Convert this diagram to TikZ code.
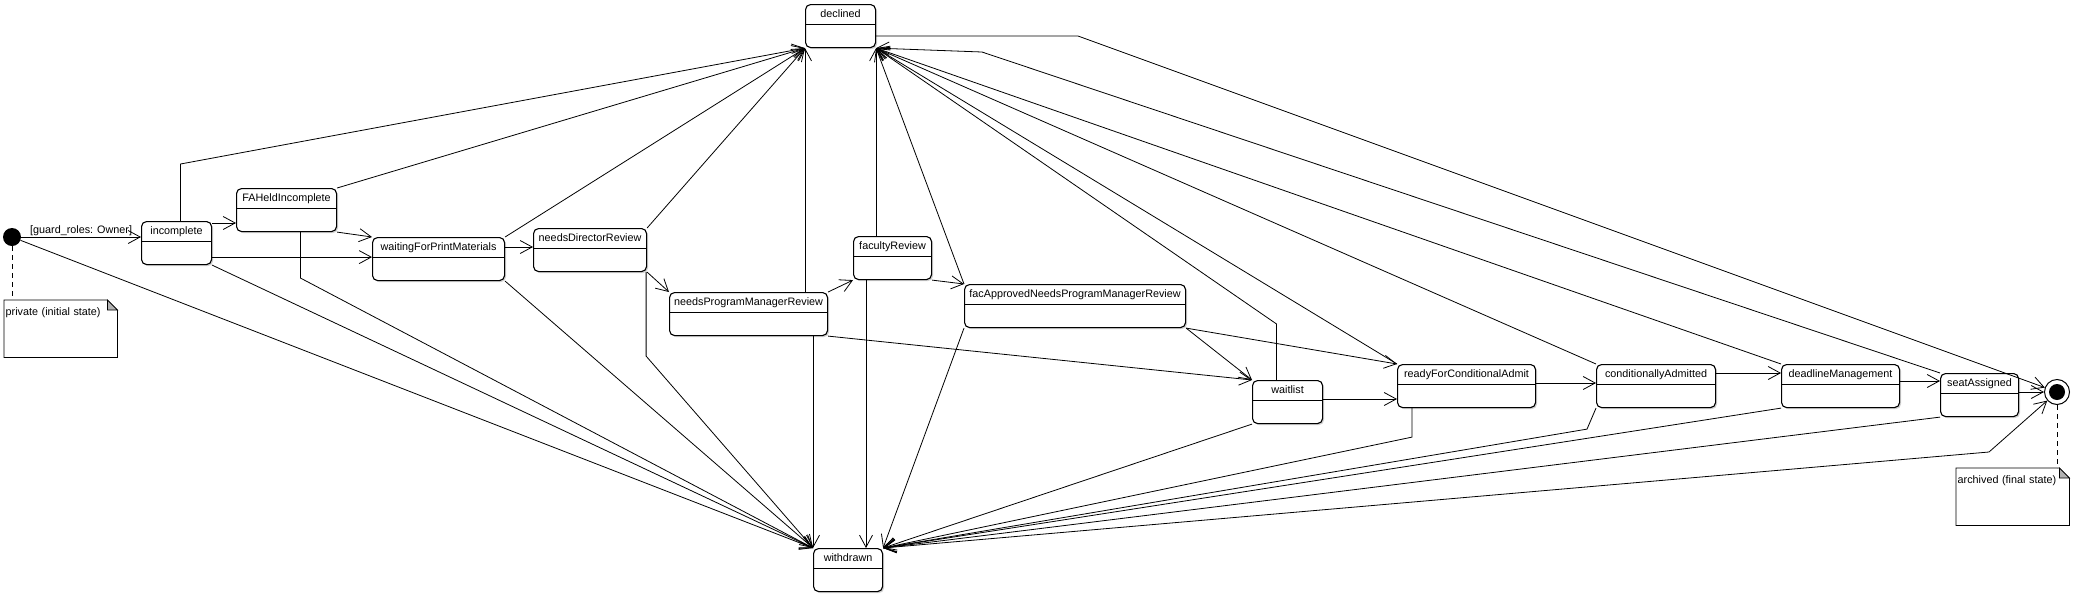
\documentclass[tikz,border=0pt]{standalone}
\usepackage{fontspec}
\setmainfont{Liberation Sans}
\usetikzlibrary{arrows.meta, shadows}

\tikzset{
  statebox/.style={draw, rounded corners=5pt, line width=1.1pt, fill=white,
    drop shadow={shadow xshift=1.5pt, shadow yshift=-1.5pt, fill=black!30, opacity=0.6},
    anchor=north west, minimum height=43pt, inner xsep=2pt, inner ysep=3pt,
    text height=10pt, text depth=27pt},
  notebox/.style={anchor=north west, minimum height=57pt, text width=110pt, align=left,
    inner xsep=1.5pt, inner ysep=1pt, text height=14pt, text depth=41pt},
  trans/.style={-{Straight Barb[length=12pt, width=13pt]}, line width=0.8pt},
  notelink/.style={line width=0.8pt, dash pattern=on 5pt off 4pt}
}

\begin{document}
\begin{tikzpicture}[x=1pt, y=-1pt, font=\fontsize{10.8}{13}\selectfont]
  \useasboundingbox (0, 0) rectangle (2074, 595);

  % pseudo states
  \node[circle, fill, minimum size=18pt, inner sep=0pt] (init) at (12, 237) {};
  \node[circle, draw, line width=1pt, minimum size=25pt, inner sep=0pt] (final) at (2057, 392) {};
  \fill (final) circle (8pt);

  % states
  \node[statebox, minimum width=70pt] (incomplete) at (141, 221) {incomplete};
  \node[statebox, minimum width=100pt] (FAHeldIncomplete) at (236, 188) {FAHeldIncomplete};
  \node[statebox, minimum width=132pt] (waitingForPrintMaterials) at (372, 237) {waitingForPrintMaterials};
  \node[statebox, minimum width=113pt] (needsDirectorReview) at (533, 228) {needsDirectorReview};
  \node[statebox, minimum width=158pt] (needsProgramManagerReview) at (669, 292) {needsProgramManagerReview};
  \node[statebox, minimum width=70pt] (declined) at (805, 4) {declined};
  \node[statebox, minimum width=69pt] (withdrawn) at (813, 548) {withdrawn};
  \node[statebox, minimum width=78pt] (facultyReview) at (853, 236) {facultyReview};
  \node[statebox, minimum width=221pt] (facApprovedNeedsProgramManagerReview) at (964, 284) {facApprovedNeedsProgramManagerReview};
  \node[statebox, minimum width=70pt] (waitlist) at (1252, 380) {waitlist};
  \node[statebox, minimum width=138pt] (readyForConditionalAdmit) at (1397, 364) {readyForConditionalAdmit};
  \node[statebox, minimum width=119pt] (conditionallyAdmitted) at (1596, 364) {conditionallyAdmitted};
  \node[statebox, minimum width=118pt] (deadlineManagement) at (1781, 364) {deadlineManagement};
  \node[statebox, minimum width=78pt] (seatAssigned) at (1940, 373) {seatAssigned};

  \foreach \n in {incomplete, FAHeldIncomplete, waitingForPrintMaterials, needsDirectorReview,
      needsProgramManagerReview, declined, withdrawn, facultyReview, facApprovedNeedsProgramManagerReview,
      waitlist, readyForConditionalAdmit, conditionallyAdmitted, deadlineManagement, seatAssigned}
    \draw[line width=0.9pt] ([yshift=-20pt]\n.north west) -- ([yshift=-20pt]\n.north east);

  % notes
  \node[notebox] (privatenote) at (4, 300) {private (initial state)};
  \node[notebox] (archivednote) at (1956, 468) {archived (final state)};
  \foreach \n in {privatenote, archivednote} {
    \draw[line width=0.8pt] (\n.north west) -- ([xshift=-10pt]\n.north east) -- ([yshift=-10pt]\n.north east)
      -- (\n.south east) -- (\n.south west) -- cycle;
    \filldraw[fill=black!30, line width=0.8pt] ([xshift=-10pt]\n.north east) -- ([xshift=-10pt, yshift=-10pt]\n.north east)
      -- ([yshift=-10pt]\n.north east) -- cycle;
  }
  \draw[notelink] (init.south) -- (init.south |- privatenote.north);
  \draw[notelink] (final.south) -- (final.south |- archivednote.north);

  % transitions
  \draw[trans] (init.east) -- (init.east -| incomplete.west)
    node[midway, above, inner sep=1pt] {[guard\_roles: Owner]};
  \draw[trans] (init) -- (withdrawn.north west);

  \draw[trans] ([yshift=-2pt]incomplete.north east) -- ([yshift=-2pt]incomplete.north east -| FAHeldIncomplete.west);
  \draw[trans] ([yshift=8pt]incomplete.south east) -- ([yshift=8pt]incomplete.south east -| waitingForPrintMaterials.west);
  \draw[trans] ([xshift=4pt]incomplete.north) -- ++(0, -57) -- (declined.south west);
  \draw[trans] (incomplete.south east) -- (withdrawn.north west);

  \draw[trans] (FAHeldIncomplete.north east) -- (declined.south west);
  \draw[trans] (FAHeldIncomplete.south east) -- (waitingForPrintMaterials.north west);
  \draw[trans] ([xshift=14pt]FAHeldIncomplete.south) -- ++(0, 46) -- (withdrawn.north west);

  \draw[trans] ([yshift=-10pt]waitingForPrintMaterials.north east) -- ([yshift=-10pt]waitingForPrintMaterials.north east -| needsDirectorReview.west);
  \draw[trans] (waitingForPrintMaterials.north east) -- (declined.south west);
  \draw[trans] (waitingForPrintMaterials.south east) -- (withdrawn.north west);

  \draw[trans] (needsDirectorReview.north east) -- (declined.south west);
  \draw[trans] (needsDirectorReview.south east) -- (needsProgramManagerReview.north west);
  \draw[trans] ([xshift=-1pt]needsDirectorReview.south east) -- ++(0, 84) -- (withdrawn.north west);

  \draw[trans] (declined.south west |- needsProgramManagerReview.north) -- (declined.south west);
  \draw[trans] (withdrawn.north west |- needsProgramManagerReview.south) -- (withdrawn.north west);
  \draw[trans] (needsProgramManagerReview.north east) -- (facultyReview.south west);
  \draw[trans] (needsProgramManagerReview.south east) -- (waitlist.north west);

  \draw[trans] (declined.south east |- facultyReview.north) -- (declined.south east);
  \draw[trans] ([xshift=13pt]facultyReview.south west) -- ([xshift=13pt]facultyReview.south west |- withdrawn.north);
  \draw[trans] (facultyReview.south east) -- (facApprovedNeedsProgramManagerReview.north west);

  \draw[trans] (facApprovedNeedsProgramManagerReview.north west) -- (declined.south east);
  \draw[trans] (facApprovedNeedsProgramManagerReview.south west) -- (withdrawn.north east);
  \draw[trans] (facApprovedNeedsProgramManagerReview.south east) -- (waitlist.north west);
  \draw[trans] (facApprovedNeedsProgramManagerReview.south east) -- (readyForConditionalAdmit.north west);

  \draw[trans] ([xshift=-11pt]waitlist.north) -- ++(0, -56) -- (declined.south east);
  \draw[trans] ([yshift=-19pt]waitlist.north east) -- ([yshift=-19pt]waitlist.north east -| readyForConditionalAdmit.west);
  \draw[trans] (waitlist.south west) -- (withdrawn.north east);

  \draw[trans] (readyForConditionalAdmit.north west) -- (declined.south east);
  \draw[trans] ([yshift=-19pt]readyForConditionalAdmit.north east) -- ([yshift=-19pt]readyForConditionalAdmit.north east -| conditionallyAdmitted.west);
  \draw[trans] ([xshift=15pt]readyForConditionalAdmit.south west) -- ++(0, 29) -- (withdrawn.north east);

  \draw[trans] (conditionallyAdmitted.north west) -- (declined.south east);
  \draw[trans] ([yshift=-9pt]conditionallyAdmitted.north east) -- ([yshift=-9pt]conditionallyAdmitted.north east -| deadlineManagement.west);
  \draw[trans] (conditionallyAdmitted.south west) -- ++(-9, 21) -- (withdrawn.north east);

  \draw[trans] (deadlineManagement.north west) -- (declined.south east);
  \draw[trans] ([yshift=-17pt]deadlineManagement.north east) -- ([yshift=-17pt]deadlineManagement.north east -| seatAssigned.west);
  \draw[trans] (deadlineManagement.south west) -- (withdrawn.north east);

  \draw[trans] (seatAssigned.north west) -- (982, 52) -- (declined.south east);
  \draw[trans] (seatAssigned.east |- final.west) -- (final.west);
  \draw[trans] (seatAssigned.south west) -- (withdrawn.north east);

  \draw[trans] ([yshift=-32pt]declined.north east) -- (1078, 36) -- (final);
  \draw[trans] (withdrawn.north east) -- (1989, 452) -- (final);

\end{tikzpicture}
\end{document}
